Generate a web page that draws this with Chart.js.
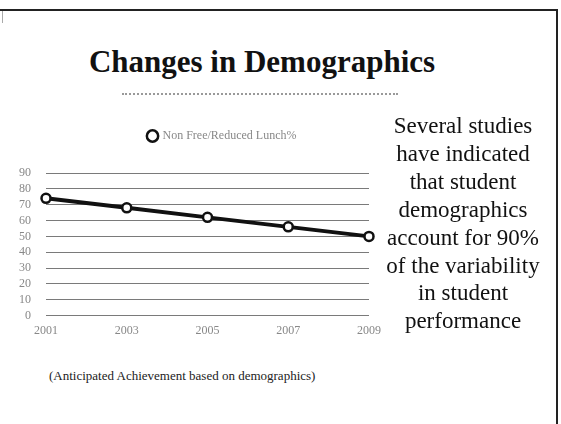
<!DOCTYPE html>
<html>
<head>
<meta charset="utf-8">
<script src="https://cdn.jsdelivr.net/npm/chart.js@4"></script>
<style>
  body { margin: 0; background: #fff; width: 561px; height: 424px; position: relative; overflow: hidden; font-family: "Liberation Serif", serif; }
  .frame { position: absolute; left: 0; top: 9px; width: 556px; height: 420px; border-top: 2px solid #222; border-right: 2px solid #222; }
  .stub { position: absolute; left: 2px; top: 11px; width: 1px; height: 12px; background: #aaa; }
  h1 { position: absolute; left: 0; width: 524px; top: 42px; margin: 0; text-align: center; font-size: 31px; font-weight: bold; color: #111; line-height: 40px; }
  .rule { position: absolute; left: 122px; top: 93px; width: 276px; border-top: 2px dotted #999; }
  .side { position: absolute; left: 375px; width: 176px; top: 112px; text-align: center; font-size: 23px; line-height: 27.9px; color: #111; }
  .caption { position: absolute; left: 49px; top: 368px; font-size: 13px; color: #222; }
  #wrap { position: absolute; left: 0; top: 114px; width: 381px; height: 226px; }
</style>
</head>
<body>
<div class="frame"></div>
<div class="stub"></div>
<h1>Changes in Demographics</h1>
<div class="rule"></div>
<div id="wrap"><canvas id="demo-chart"></canvas></div>
<div class="side">Several studies<br>have indicated<br>that student<br>demographics<br>account for 90%<br>of the variability<br>in student<br>performance</div>
<div class="caption">(Anticipated Achievement based on demographics)</div>
<script>
const years = ['2001', '2003', '2005', '2007', '2009'];
const nonFreeLunch = [74, 68, 62, 56, 50];
const seriesName = 'Non Free/Reduced Lunch%';

// legend sits a bit right of centre with a gap under it, like the slide
const legendTweak = {
    id: 'legendTweak',
    afterInit(chart) {
        const fit = chart.legend.fit;
        chart.legend.fit = function() {
            fit.call(this);
            this.height += 21;
        };
    },
    afterLayout(chart) {
        chart.legend.left += 30;
        chart.legend.right += 30;
    }
};

const ctx = document.getElementById('demo-chart').getContext('2d');
new Chart(ctx, {
    type: 'line',
    data: {
        labels: years,
        datasets: [{
            label: seriesName,
            data: nonFreeLunch,
            borderColor: '#111',
            borderWidth: 4,
            pointRadius: 4.5,
            pointBorderWidth: 2.5,
            pointBackgroundColor: '#fff',
            pointBorderColor: '#111',
            tension: 0
        }]
    },
    options: {
        responsive: true,
        maintainAspectRatio: false,
        animation: false,
        layout: { padding: { left: 4, right: 0, top: 6, bottom: 2 } },
        plugins: {
            legend: {
                display: true,
                labels: {
                    usePointStyle: true,
                    pointStyle: 'circle',
                    boxWidth: 8,
                    boxHeight: 8,
                    color: '#888',
                    padding: 10,
                    font: { family: 'Liberation Serif', size: 12 }
                }
            },
            tooltip: { enabled: false }
        },
        scales: {
            x: {
                offset: false,
                grid: { display: false },
                border: { display: false },
                ticks: { color: '#888', padding: 0, maxRotation: 0, font: { family: 'Liberation Serif', size: 12 } }
            },
            y: {
                min: 0,
                max: 90,
                ticks: { stepSize: 10, autoSkip: false, color: '#888', padding: 15, font: { family: 'Liberation Serif', size: 12 } },
                grid: { color: '#7a7a7a', lineWidth: 1, drawTicks: false },
                border: { display: false }
            }
        }
    },
    plugins: [legendTweak]
});
</script>
</body>
</html>
